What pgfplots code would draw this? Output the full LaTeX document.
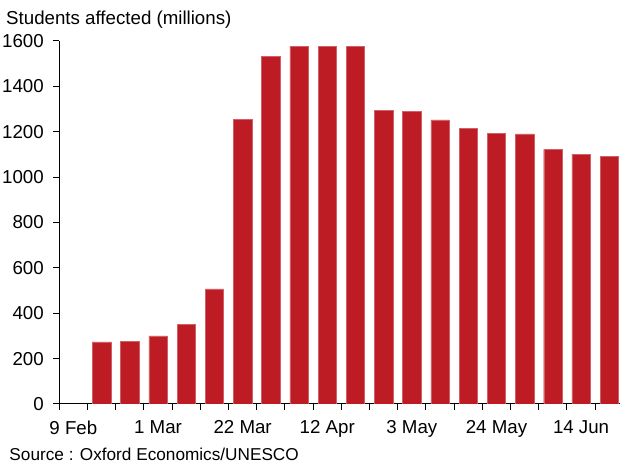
\documentclass[border=0pt]{standalone}
\usepackage{pgfplots}
\pgfplotsset{compat=1.18}
\usepackage{fontspec}
\setmainfont{Liberation Sans}
\definecolor{barred}{RGB}{190,28,36}

\begin{document}
\begin{tikzpicture}[x=1pt,y=1pt]
\begin{axis}[
  at={(0,0)}, anchor=south west,
  scale only axis, width=560.7pt, height=363pt,
  xmin=-0.5, xmax=19.38, ymin=0, ymax=1600,
  axis lines*=left,
  axis line style={line width=1pt, black},
  tick align=outside, tick pos=left,
  major tick length=6pt,
  tick style={line width=1pt, black},
  xtick={-0.5,0.5,...,18.6},
  xticklabels={},
  extra x ticks={0,3,6,9,12,15,18},
  extra x tick labels={9 Feb,1 Mar,22 Mar,12 Apr,3 May,24 May,14 Jun},
  extra x tick style={tick style={draw=none}},
  ytick={0,200,...,1600},
  /pgf/number format/assume math mode=true,
  /pgf/number format/1000 sep={},
  ticklabel style={font=\fontsize{18.7}{21}\selectfont},
  xticklabel style={yshift=-7pt},
  yticklabel style={xshift=-6pt},
]
\addplot[ybar, bar width=0.65, fill=barred, draw=barred!70!white, line width=0.4pt]
  coordinates {
  (1,274) (2,277) (3,300) (4,352) (5,507) (6,1255) (7,1531) (8,1577)
  (9,1577) (10,1577) (11,1294) (12,1289) (13,1252) (14,1214) (15,1192)
  (16,1191) (17,1122) (18,1101) (19,1091)
  };
\end{axis}
\node[anchor=base west, inner sep=0pt, font=\fontsize{18.7}{21}\selectfont]
  at (-53.3,379) {Students affected (millions)};
\node[anchor=base west, inner sep=0pt, font=\fontsize{17.2}{20}\selectfont]
  at (-50,-56) {Source : Oxford Economics/UNESCO};
\pgfresetboundingbox
\path (-59.3,-61) rectangle (560.7,404);
\end{tikzpicture}
\end{document}
